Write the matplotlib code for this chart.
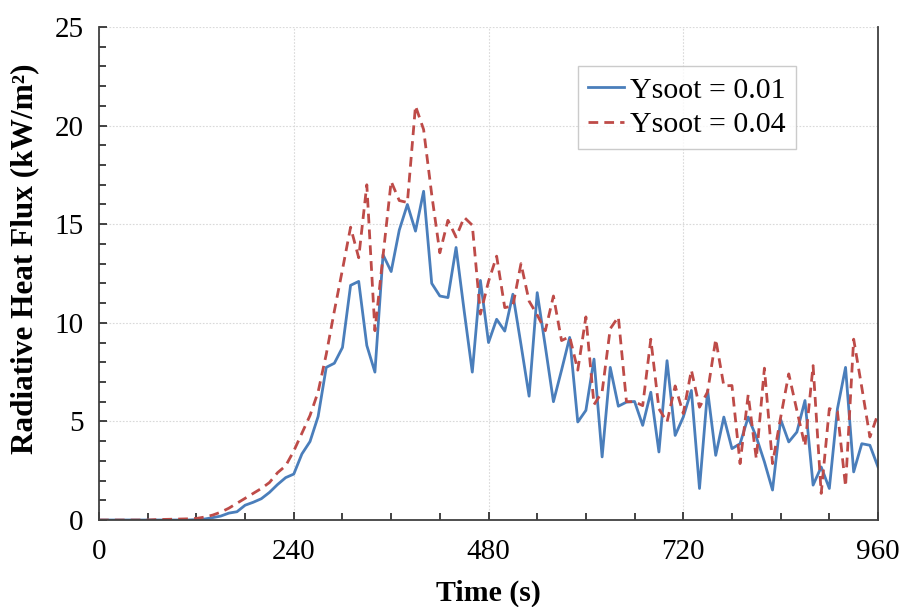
import numpy as np
import matplotlib
matplotlib.use("Agg")
import matplotlib.pyplot as plt
from matplotlib.ticker import MultipleLocator

time_s = list(range(0, 970, 10))

ysoot_001 = [0.0, 0.0, 0.0, 0.0, 0.0, 0.0, 0.0, 0.0, 0.0, 0.0, 0.0, 0.0,
             0.02, 0.05, 0.12, 0.2, 0.35, 0.42, 0.75, 0.9, 1.08, 1.4, 1.8, 2.15,
             2.33, 3.35, 3.98, 5.25, 7.74, 7.95, 8.75, 11.9, 12.1, 8.85, 7.5, 13.45,
             12.6, 14.7, 16.0, 14.65, 16.67, 12.0, 11.36, 11.28, 13.82, 10.6, 7.5, 12.15,
             9.0, 10.18, 9.58, 11.45, 8.9, 6.28, 11.53, 8.8, 6.0, 7.6, 9.26, 4.97,
             5.56, 8.16, 3.2, 7.74, 5.77, 5.98, 6.01, 4.8, 6.48, 3.45, 8.08, 4.29,
             5.22, 6.57, 1.6, 6.57, 3.28, 5.22, 3.62, 3.87, 5.22, 4.21, 2.95, 1.52,
             5.1, 3.96, 4.46, 6.06, 1.77, 2.69, 1.6, 5.64, 7.74, 2.44, 3.87, 3.79,
             2.69]

ysoot_004 = [0.0, 0.0, 0.0, 0.0, 0.0, 0.0, 0.0, 0.02, 0.03, 0.04, 0.05, 0.06,
             0.08, 0.15, 0.25, 0.4, 0.6, 0.85, 1.1, 1.35, 1.6, 1.9, 2.4, 2.75,
             3.5, 4.4, 5.3, 6.5, 8.4, 10.6, 12.7, 14.85, 13.3, 17.0, 9.6, 13.4,
             17.17, 16.2, 16.1, 21.0, 19.8, 16.5, 13.55, 15.2, 14.35, 15.35, 14.95, 10.44,
             12.1, 13.38, 10.77, 10.86, 13.0, 11.1, 10.4, 9.6, 11.36, 9.1, 9.3, 7.6,
             10.3, 5.85, 6.5, 9.7, 10.3, 6.0, 6.0, 5.8, 9.17, 5.64, 4.97, 6.8,
             5.4, 7.6, 5.72, 6.5, 9.17, 6.8, 6.82, 2.86, 6.35, 3.11, 7.7, 2.86,
             5.2, 7.41, 5.56, 3.75, 7.83, 1.35, 5.65, 5.5, 1.7, 9.17, 6.73, 4.21,
             5.39]

labels = ["Ysoot = 0.01", "Ysoot = 0.04"]
x_ticks = [0, 240, 480, 720, 960]
y_ticks = [0, 5, 10, 15, 20, 25]

plt.rcParams['font.family'] = ['Liberation Serif', 'DejaVu Serif']

fig = plt.figure(figsize=(9.02, 6.07), dpi=100)
ax = fig.add_axes([0.1098, 0.1433, 0.8636, 0.8122])

ax.plot(time_s, ysoot_001, color='#4A7EBB', lw=2.0, label=labels[0])
ax.plot(time_s, ysoot_004, color='#BE4B48', lw=2.0, ls=(0, (3.5, 2.2)), label=labels[1])

ax.set_xlim(0, 960)
ax.set_ylim(0, 25)
ax.set_xticks(x_ticks)
ax.set_yticks(y_ticks)
ax.xaxis.set_minor_locator(MultipleLocator(60))
ax.yaxis.set_minor_locator(MultipleLocator(1))
ax.tick_params(axis='both', which='both', direction='in', labelsize=21, width=1.2, colors='#222222')
ax.tick_params(axis='both', which='major', length=6)
ax.tick_params(axis='both', which='minor', length=5)
ax.tick_params(axis='x', pad=14)
ax.tick_params(axis='y', pad=11)
for lab in ax.get_xticklabels() + ax.get_yticklabels():
    lab.set_color('black')

ax.grid(True, which='major', color='#d9d9d9', ls=(0, (1.5, 1.5)), lw=0.8)

for s in ['left', 'bottom', 'right']:
    ax.spines[s].set_color('#404040')
    ax.spines[s].set_linewidth(1.3)
ax.spines['top'].set_visible(False)

ax.set_xlabel('Time (s)', fontsize=21.5, fontweight='bold', labelpad=10)
ax.set_ylabel('Radiative Heat Flux (kW/m²)', fontsize=22.5, fontweight='bold')
ax.yaxis.set_label_coords(-0.077, 0.53)

leg = ax.legend(loc='upper right', bbox_to_anchor=(0.895, 0.92), fontsize=21.5,
                frameon=True, fancybox=False, edgecolor='#bfbfbf', handlelength=1.2,
                handletextpad=0.2, borderpad=0.35, labelspacing=0.25, borderaxespad=0)
leg.get_frame().set_linewidth(1.0)

fig.savefig('out.png', dpi=100)
